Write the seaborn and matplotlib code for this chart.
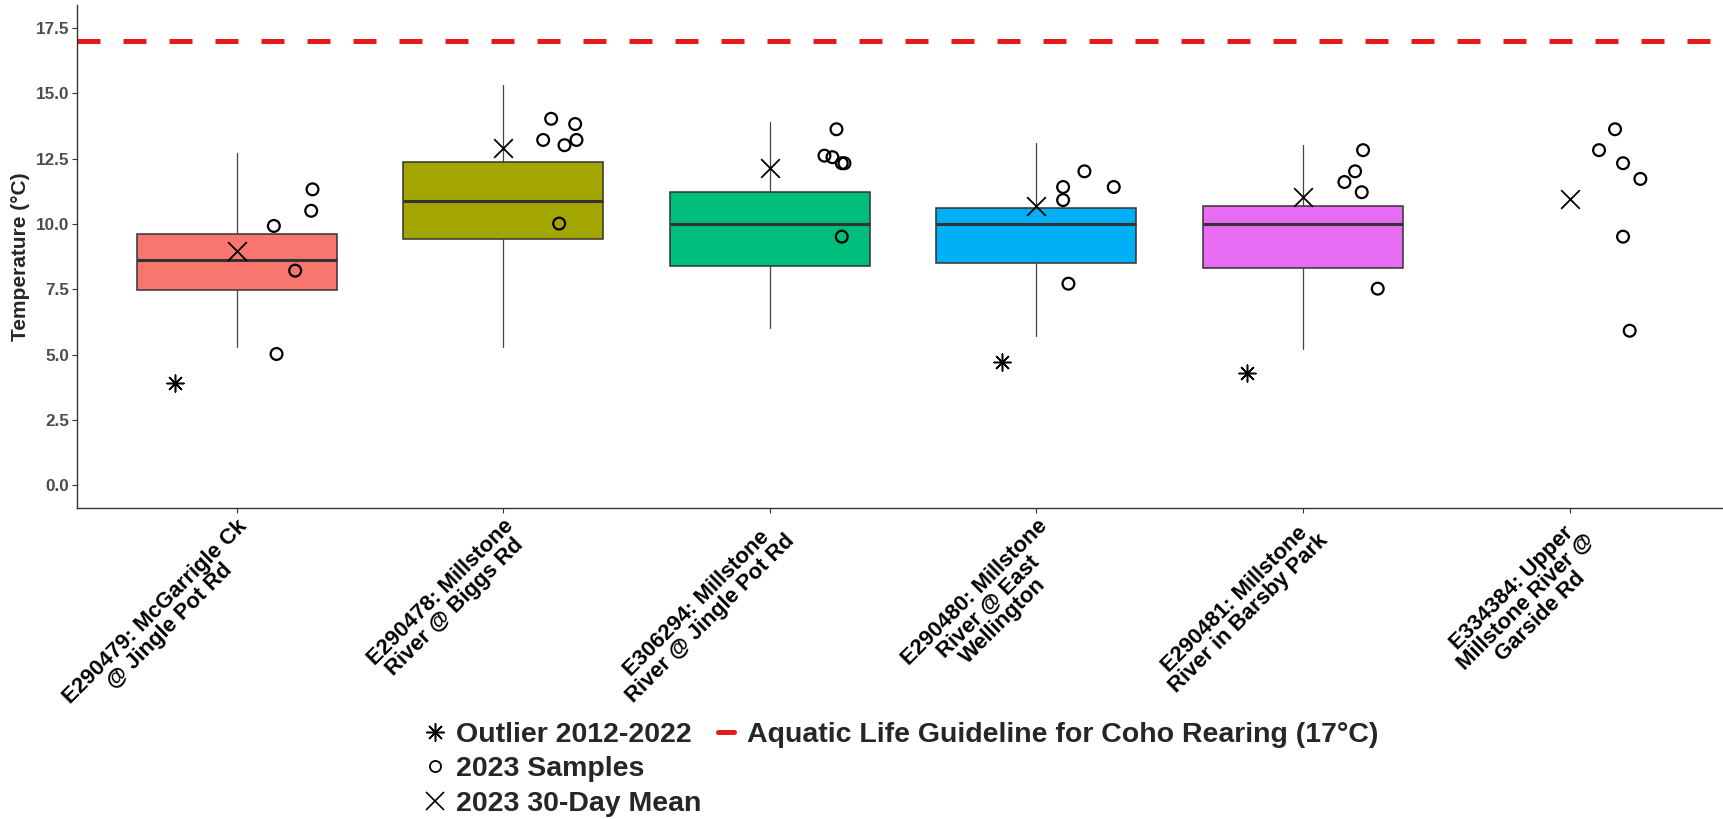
import numpy as np
import pandas as pd
import matplotlib
matplotlib.use("Agg")
import matplotlib.pyplot as plt
from matplotlib.lines import Line2D
import seaborn as sns

# Sites (x categories)
sites = ["E290479: McGarrigle Ck\n@ Jingle Pot Rd",
         "E290478: Millstone\nRiver @ Biggs Rd",
         "E306294: Millstone\nRiver @ Jingle Pot Rd",
         "E290480: Millstone\nRiver @ East\nWellington",
         "E290481: Millstone\nRiver in Barsby Park",
         "E334384: Upper\nMillstone River @\nGarside Rd"]
box_colors = ["#F8766D", "#A3A500", "#00BF7D", "#00B0F6", "#E76BF3"]

# 2012-2022 box stats (first five sites only)
whisk_lo = [5.3, 5.3, 6.0, 5.7, 5.2]
q1 = [7.45, 9.43, 8.4, 8.5, 8.3]
median = [8.62, 10.86, 10.0, 10.0, 10.0]
q3 = [9.6, 12.38, 11.22, 10.62, 10.7]
whisk_hi = [12.7, 15.3, 13.9, 13.1, 13.0]

# outliers 2012-2022
outlier_site = [0, 3, 4]
outlier_temp = [3.9, 4.7, 4.3]
outlier_jitter = [-0.23, -0.13, -0.21]

# 2023 30-day mean
mean_temp = [8.97, 12.89, 12.15, 10.7, 11.04, 10.96]

# 2023 samples
sample_site = [0] * 5 + [1] * 6 + [2] * 6 + [3] * 5 + [4] * 5 + [5] * 6
sample_temp = [9.92, 10.5, 11.32, 8.21, 5.02,
               14.02, 13.21, 13.01, 13.82, 13.21, 10.01,
               13.62, 12.61, 12.55, 12.32, 12.32, 9.51,
               11.41, 10.91, 12.01, 11.41, 7.71,
               12.82, 12.01, 11.6, 11.21, 7.52,
               13.62, 12.82, 12.32, 11.72, 9.51, 5.91]
sample_jitter = [0.14, 0.28, 0.285, 0.22, 0.15,
                 0.18, 0.15, 0.23, 0.27, 0.275, 0.21,
                 0.25, 0.205, 0.235, 0.27, 0.28, 0.27,
                 0.10, 0.10, 0.18, 0.29, 0.12,
                 0.225, 0.195, 0.155, 0.22, 0.28,
                 0.17, 0.11, 0.20, 0.265, 0.20, 0.225]

guideline = 17.0
guide_label = "Aquatic Life Guideline for Coho Rearing (17°C)"

sns.set_style("ticks")
plt.rcParams["font.family"] = ["Liberation Sans", "DejaVu Sans"]

fig = plt.figure(figsize=(17.24, 8.19), dpi=100)
ax = fig.add_axes([0.0444, 0.3797, 0.9589, 0.6142])

stats = [dict(whislo=whisk_lo[i], q1=q1[i], med=median[i], q3=q3[i],
              whishi=whisk_hi[i], fliers=[]) for i in range(len(q1))]
bp = ax.bxp(stats, positions=list(range(len(q1))), widths=0.75,
            patch_artist=True, showcaps=False, manage_ticks=False,
            boxprops=dict(edgecolor="#333333", linewidth=1.1),
            medianprops=dict(color="#333333", linewidth=2.2),
            whiskerprops=dict(color="#444444", linewidth=0.9))
for patch, c in zip(bp["boxes"], box_colors):
    patch.set_facecolor(c)

ax.axhline(guideline, color="#E41A1C", linewidth=3.6,
           linestyle=(0, (4.6, 4.6)), zorder=1)

out_df = pd.DataFrame({"x": np.array(outlier_site) + np.array(outlier_jitter),
                       "temp": outlier_temp})
samp_df = pd.DataFrame({"x": np.array(sample_site) + np.array(sample_jitter),
                        "temp": sample_temp})
mean_df = pd.DataFrame({"x": np.arange(len(mean_temp)), "temp": mean_temp})

sns.scatterplot(data=out_df, x="x", y="temp", ax=ax, marker=(8, 2, 0),
                s=150, color="black", linewidth=1.1, zorder=4, legend=False)
ax.scatter(samp_df["x"], samp_df["temp"], s=72, marker="o",
           facecolors="none", edgecolors="black", linewidths=1.6, zorder=4)
sns.scatterplot(data=mean_df, x="x", y="temp", ax=ax, marker="x",
                s=180, color="black", linewidth=1.3, zorder=5, legend=False)

ax.set_xlim(-0.6, len(sites) - 0.4)
ax.set_ylim(-0.875, 18.375)
ax.set_yticks(np.arange(0, 17.6, 2.5))
ax.set_yticklabels([f"{v:.1f}" for v in np.arange(0, 17.6, 2.5)],
                   fontsize=12.3, fontweight="bold", color="#4D4D4D")
ax.set_xticks(range(len(sites)))
ax.set_xticklabels(sites, rotation=45, ha="right", va="top",
                   rotation_mode="anchor", fontsize=15.8, fontweight="bold",
                   color="black", linespacing=0.95, multialignment="center")
ax.tick_params(axis="both", length=3.5, width=0.8, color="#333333", pad=2)
ax.set_xlabel("")
ax.set_ylabel("Temperature (°C)", fontsize=15, fontweight="bold", labelpad=4)
sns.despine(ax=ax)
for side in ["left", "bottom"]:
    ax.spines[side].set_color("#333333")
    ax.spines[side].set_linewidth(1.0)

blank = Line2D([], [], linestyle="none")
handles = [
    Line2D([], [], linestyle="none", marker=(8, 2, 0), markersize=13,
           color="black", markeredgewidth=1.1),
    Line2D([], [], linestyle="none", marker="o", markersize=8,
           markerfacecolor="none", markeredgecolor="black", markeredgewidth=1.3),
    Line2D([], [], linestyle="none", marker="x", markersize=13,
           color="black", markeredgewidth=1.2),
    Line2D([], [], color="#E41A1C", linewidth=3.6),
    blank, blank,
]
labels = ["Outlier 2012-2022", "2023 Samples", "2023 30-Day Mean",
          guide_label, "", ""]
fig.legend(handles, labels, ncol=2, loc="upper left",
           bbox_to_anchor=(0.2477, 0.119), frameon=False,
           prop=dict(family="Liberation Sans", weight="bold", size=20.5),
           handlelength=0.56, handletextpad=0.45, columnspacing=0.6,
           labelspacing=0.3, borderpad=0, borderaxespad=0)

fig.savefig("out.png", dpi=100)
